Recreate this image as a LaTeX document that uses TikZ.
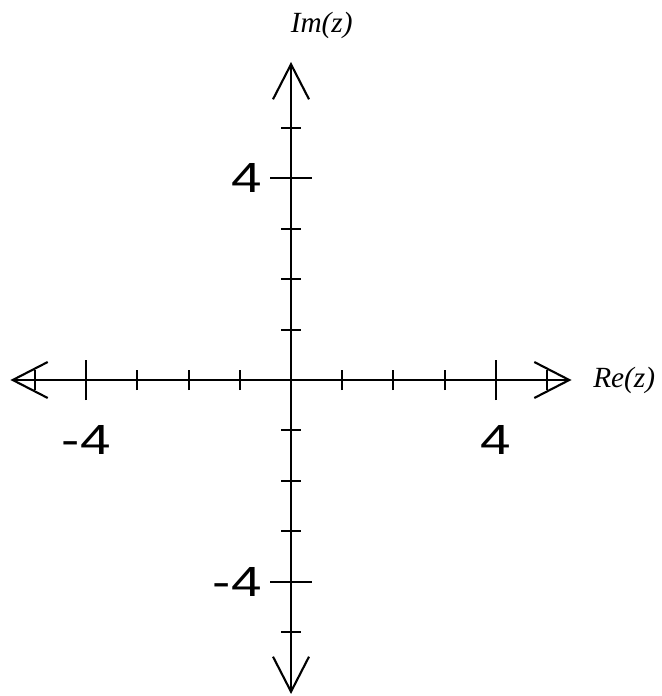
\documentclass[tikz,border=0pt]{standalone}
\usepackage{fontspec}
\setmainfont{Liberation Serif}
\newfontfamily\numfont[FakeStretch=1.3]{Liberation Sans}
\usetikzlibrary{arrows.meta}
\tikzset{
  axis/.style  = {line width=1.8pt,
                  {Straight Barb[length=1.05cm,width=1.08cm]}-{Straight Barb[length=1.05cm,width=1.08cm]}},
  tck/.style   = {line width=1.8pt},
  num/.style   = {font=\fontsize{36}{40}\selectfont\numfont, inner sep=0pt},
  axlbl/.style = {font=\fontsize{25}{28}\selectfont\itshape, inner sep=0pt}
}

\begin{document}
\begin{tikzpicture}[x=1.536cm, y=1.512cm]
\useasboundingbox (-5.684,-6.270) rectangle (7.227,7.540);

% --- axes ---
\coordinate (xl) at (-5.48,0);
\coordinate (xr) at (5.48,0);
\coordinate (yb) at (0,-6.23);
\coordinate (yt) at (0,6.31);
\draw[axis] (xl) -- (xr);
\draw[axis] (yb) -- (yt);

% --- small ticks ---
\foreach \t in {-5,-3,-2,-1,1,2,3,5} {
  \draw[tck] (\t,-0.2) -- (\t,0.2);
  \draw[tck] (-0.195,\t) -- (0.195,\t);
}
% --- long ticks at +-4 ---
\foreach \t in {-4,4} {
  \draw[tck] (\t,-0.4) -- (\t,0.4);
  \draw[tck] (-0.41,\t) -- (0.41,\t);
}

% --- tick labels ---
\node[num] (xm4) at (-4,-1.19) {-4};
\node[num] (xp4) at (4,-1.19) {4};
\node[num, anchor=east] (yp4) at (-0.57,4) {4};
\node[num, anchor=east] (ym4) at (-0.57,-4) {-4};

% --- axis names ---
\node[axlbl] (im) at (0.6,7.04) {Im(z)};
\node[axlbl, anchor=west] (re) at (5.9,0) {Re(z)};

\end{tikzpicture}
\end{document}
